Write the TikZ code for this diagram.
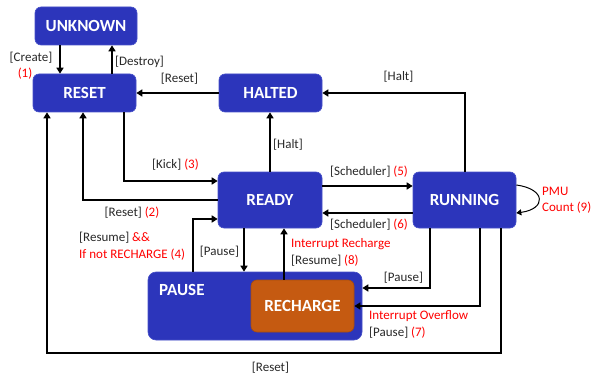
\documentclass[tikz,border=0pt]{standalone}
\usepackage{fontspec}
\setmainfont{Carlito}
\usetikzlibrary{arrows.meta,calc}
\definecolor{boxblue}{RGB}{44,53,187}
\definecolor{boxedge}{RGB}{70,80,200}
\definecolor{recharge}{RGB}{197,90,17}
\definecolor{labelred}{RGB}{255,0,0}
\definecolor{labeltxt}{RGB}{40,40,40}
\tikzset{
  statebox/.style={fill=boxblue, draw=boxedge, line width=0.6pt, rounded corners=6pt,
    text=white, font=\fontsize{17}{20}\selectfont\bfseries, inner sep=0pt},
  pausebox/.style={fill=boxblue, draw=boxedge, line width=0.6pt, rounded corners=8pt, inner sep=0pt},
  rechbox/.style={fill=recharge, draw=recharge!85!black, line width=0.6pt, rounded corners=6pt,
    text=white, font=\fontsize{17}{20}\selectfont\bfseries, inner sep=0pt},
  arr/.style={line width=2pt, -{Triangle[length=6pt,width=7pt]}},
  lbl/.style={text=labeltxt, font=\fontsize{13}{16.5}\selectfont, inner sep=0pt},
  rlbl/.style={text=labelred, font=\fontsize{13}{16.5}\selectfont, inner sep=0pt},
}
\newcommand{\rd}[1]{\textcolor{labelred}{#1}}
\begin{document}
\begin{tikzpicture}[x=1pt,y=-1pt]
\useasboundingbox (0,0) rectangle (594,377);

% boxes
\node[statebox, minimum width=102pt, minimum height=38pt] (UNKNOWN) at (86,26) {UNKNOWN};
\node[statebox, minimum width=103pt, minimum height=38pt] (RESET) at (84.5,93) {RESET};
\node[statebox, minimum width=103pt, minimum height=38pt] (HALTED) at (270.5,93) {HALTED};
\node[statebox, minimum width=104pt, minimum height=56pt] (READY) at (270,200) {READY};
\node[statebox, minimum width=103pt, minimum height=56pt] (RUNNING) at (464.5,200) {RUNNING};
\node[pausebox, minimum width=214pt, minimum height=68pt] (PAUSE) at (255,306) {};
\node[text=white, font=\fontsize{17}{20}\selectfont\bfseries, anchor=west, inner sep=0pt] (PAUSEtxt) at (159,290) {PAUSE};
\node[rechbox, minimum width=103pt, minimum height=52pt] (RECHARGE) at (302.5,306) {RECHARGE};

\coordinate (bottomline) at (0,353);

% connectors
\draw[arr] ([xshift=-26pt]UNKNOWN.south) -- ([xshift=-26pt]UNKNOWN.south |- RESET.north);
\draw[arr] ([xshift=27.5pt]RESET.north) -- ([xshift=27.5pt]RESET.north |- UNKNOWN.south);
\draw[arr] (HALTED.west) -- (RESET.east);
\draw[arr] ([xshift=39.5pt]RESET.south) |- ([yshift=19pt]READY.west);
\draw[arr] (READY.north) -- (READY.north |- HALTED.south);
\draw[arr] (RUNNING.north) |- (HALTED.east);
\draw[arr] ([yshift=14pt]READY.east) -- ([yshift=14pt]READY.east -| RUNNING.west);
\draw[arr] ([yshift=-13pt]RUNNING.west) -- ([yshift=-13pt]RUNNING.west -| READY.east);
\draw[line width=1pt, -{Triangle[length=5pt,width=6pt]}] ([yshift=15pt]RUNNING.east) .. controls +(30pt,-4pt) and +(30pt,4pt) .. ([yshift=-13pt]RUNNING.east);
\draw[arr] (READY.west) -| ([xshift=-1.5pt]RESET.south);
\draw[arr] ([xshift=36.5pt]RUNNING.south) -- ([xshift=36.5pt]RUNNING.south |- bottomline) -| ([xshift=-37.5pt]RESET.south);
\draw[arr] ([xshift=-62pt]PAUSE.north) |- ([yshift=-19pt]READY.west);
\draw[arr] ([xshift=-26pt]READY.south) -- ([xshift=-26pt]READY.south |- PAUSE.north);
\draw[arr] ([xshift=14pt]READY.south |- RECHARGE.north) -- ([xshift=14pt]READY.south);
\draw[arr] ([xshift=-34.5pt]RUNNING.south) |- ([yshift=18pt]PAUSE.east);
\draw[arr] ([xshift=15.5pt]RUNNING.south) |- (RECHARGE.east);

% labels
\node[lbl] (lCreate) at (31,58) {[Create]};
\node[rlbl] (l1) at (25,74) {(1)};
\node[lbl, anchor=west] (lDestroy) at (115,62) {[Destroy]};
\node[lbl] (lReset1) at (179.5,79) {[Reset]};
\node[lbl] (lKick) at (175.5,165) {[Kick] \rd{(3)}};
\node[lbl, anchor=west] (lHalt1) at (273,145) {[Halt]};
\node[lbl] (lHalt2) at (398.5,77) {[Halt]};
\node[lbl] (lSch5) at (369,172) {[Scheduler] \rd{(5)}};
\node[lbl] (lSch6) at (369,225) {[Scheduler] \rd{(6)}};
\node[rlbl, anchor=west, align=left] (lPMU) at (542,200) {PMU\\Count (9)};
\node[lbl] (lReset2) at (132,213) {[Reset] \rd{(2)}};
\node[lbl, anchor=west, align=left] (lResume4) at (79,246) {[Resume] \rd{\&\&}\\\rd{If not RECHARGE (4)}};
\node[lbl] (lPause1) at (219.5,252) {[Pause]};
\node[lbl, anchor=west, align=left] (lResume8) at (291,252.5) {\rd{Interrupt Recharge}\\{[Resume]} \rd{(8)}};
\node[lbl] (lPause2) at (403.5,278) {[Pause]};
\node[lbl, anchor=west, align=left] (lPause7) at (369,324.5) {\rd{Interrupt Overflow}\\{[Pause]} \rd{(7)}};
\node[lbl] (lReset3) at (270.5,368) {[Reset]};
\end{tikzpicture}
\end{document}
